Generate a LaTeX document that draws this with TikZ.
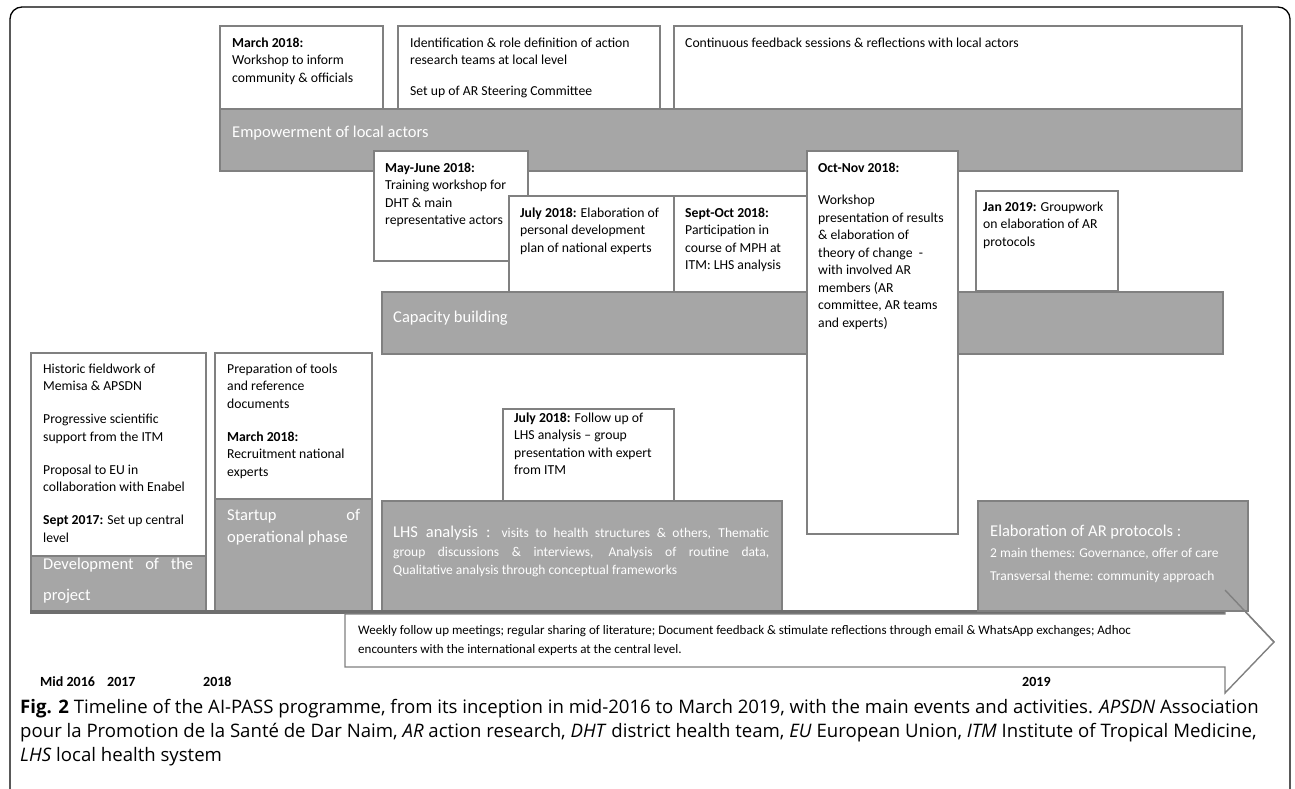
\documentclass[tikz,border=0pt]{standalone}
\usepackage{fontspec}
\setmainfont{Carlito}
\newfontfamily\capfont{Open Sans}
\definecolor{bandgray}{HTML}{A6A6A6}
\definecolor{edgegray}{HTML}{808080}
\definecolor{axisgray}{HTML}{6E6E6E}
\tikzset{
  wbox/.style={draw=edgegray, line width=1.6pt, fill=white, anchor=north west, inner sep=0pt},
  gband/.style={draw=edgegray, line width=1.6pt, fill=bandgray, anchor=north west, inner sep=0pt},
  txt/.style={anchor=north west, inner sep=0pt, align=left, text=black, font=\fontsize{13.7}{17.5}\selectfont},
  btxt/.style={anchor=west, inner sep=0pt, text=white, font=\fontsize{16.5}{20}\selectfont},
  stxt/.style={anchor=west, inner sep=0pt, text=white, font=\fontsize{13.5}{17.5}\selectfont},
  yeartxt/.style={anchor=west, inner sep=0pt, font=\bfseries\fontsize{14}{16}\selectfont},
  captxt/.style={anchor=west, inner sep=0pt, font=\capfont\fontsize{18.6}{23}\selectfont},
}
\newcommand{\bx}[6]{\node[#1, minimum width=#4pt-#2pt, minimum height=#5pt-#3pt] (#6) at (#2,#3) {};}
\begin{document}
\begin{tikzpicture}[x=1pt,y=-1pt]
\useasboundingbox (0,0) rectangle (1295,789);
% frame
\draw[line width=1.3pt, rounded corners=12pt] (10,800) -- (10,7) -- (1290,7) -- (1290,800);

% top row
\bx{wbox}{219}{25}{382}{108}{mar}
\bx{wbox}{397}{25}{659}{108}{ident}
\bx{wbox}{673}{25}{1241}{108}{cont}
\node[txt] (marT) at ([shift={(13,12.5)}]mar.north west) {\textbf{March 2018:}\\Workshop to inform\\community \& officials};
\node[txt] (identT) at ([shift={(13,12.5)}]ident.north west) {Identification \& role definition of action\\research teams at local level\\[13pt]Set up of AR Steering Committee};
\node[txt] (contT) at ([shift={(12,12.5)}]cont.north west) {Continuous feedback sessions \& reflections with local actors};

\bx{gband}{219}{108}{1241}{170}{emp}
\node[btxt] (empT) at ([shift={(13,25)}]emp.north west) {Empowerment of local actors};

% capacity building
\bx{wbox}{373}{150}{527}{260}{may}
\node[txt] (mayT) at ([shift={(12,12.5)}]may.north west) {\textbf{May-June 2018:}\\Training workshop for\\DHT \& main\\representative actors};
\bx{wbox}{508}{195}{673}{291}{jula}
\node[txt] (julaT) at ([shift={(12,12.5)}]jula.north west) {\textbf{July 2018:} Elaboration of\\personal development\\plan of national experts};
\bx{wbox}{673}{195}{806}{291}{sep}
\node[txt] (sepT) at ([shift={(12,12.5)}]sep.north west) {\textbf{Sept-Oct 2018:}\\Participation in\\course of MPH at\\ITM: LHS analysis};
\bx{wbox}{975}{190}{1117}{290}{jan}
\node[txt] (janT) at ([shift={(8,11.5)}]jan.north west) {\textbf{Jan 2019:} Groupwork\\on elaboration of AR\\protocols};
\bx{gband}{381}{291}{1222}{353}{cap}
\node[btxt] (capT) at ([shift={(12,27)}]cap.north west) {Capacity building};
\bx{wbox}{806}{150}{957}{533}{oct}
\node[txt] (octT) at ([shift={(12,12.5)}]oct.north west) {\textbf{Oct-Nov 2018:}\\[15pt]Workshop\\presentation of results\\\& elaboration of\\theory of change\ \ -\\with involved AR\\members (AR\\committee, AR teams\\and experts)};

% lower row
\bx{wbox}{30}{352}{205}{555}{dev}
\node[txt] (devT) at ([shift={(13,11.5)}]dev.north west) {Historic fieldwork of\\Memisa \& APSDN\\[15.5pt]Progressive scientific\\support from the ITM\\[15.5pt]Proposal to EU in\\collaboration with Enabel\\[15.5pt]\textbf{Sept 2017:} Set up central\\level};
\bx{gband}{30}{555}{205}{610}{devb}
\node[anchor=north west, inner sep=0pt, text=white, font=\fontsize{16.5}{31}\selectfont, text width=150pt, align=justify] (devbT) at ([shift={(13,3)}]devb.north west) {Development of the\linebreak project};

\bx{wbox}{214}{352}{371}{498}{start}
\node[txt] (startT) at ([shift={(13,11.5)}]start.north west) {Preparation of tools\\and reference\\documents\\[15.5pt]\textbf{March 2018:}\\Recruitment national\\experts};
\bx{gband}{214}{498}{371}{612}{startb}
\node[anchor=north west, inner sep=0pt, text=white, font=\fontsize{16.5}{22}\selectfont, text width=133pt, align=justify] (startbT) at ([shift={(13,11)}]startb.north west) {Startup of\linebreak operational phase};

\bx{wbox}{502}{408}{673}{500}{julb}
\node[txt] (julbT) at ([shift={(12,4.5)}]julb.north west) {\textbf{July 2018:} Follow up of\\LHS analysis -- group\\presentation with expert\\from ITM};

\bx{gband}{381}{500}{781}{610}{lhs}
\node[anchor=north west, inner sep=0pt, text=white, font=\fontsize{13.5}{18.5}\selectfont, text width=376pt, align=justify] (lhsT) at ([shift={(12,26)}]lhs.north west) {{\fontsize{16.5}{18.5}\selectfont LHS analysis :} visits to health structures \& others, Thematic\linebreak group discussions \& interviews, Analysis of routine data,\linebreak Qualitative analysis through conceptual frameworks};

% axis shadow line
\draw[axisgray, line width=4pt] (30,612) -- (1247,612);

% arrow
\coordinate (arL) at (345,614);
\coordinate (arTop) at (1225,590);
\coordinate (arTip) at (1274,642);
\draw[edgegray, line width=1.4pt, fill=white] (arL) -- (1225,614) -- (arTop) -- (arTip) -- (1225,693) -- (1225,667) -- (345,667) -- cycle;
\node[txt, font=\fontsize{13}{19}\selectfont] (arT) at (358,625) {Weekly follow up meetings; regular sharing of literature; Document feedback \& stimulate reflections through email \& WhatsApp exchanges; Adhoc\\encounters with the international experts at the central level.};

\bx{gband}{977}{500}{1247}{610}{elab}
\draw[edgegray, line width=1.4pt] (arTop) -- (arTip);
\node[btxt, anchor=west] (elabT) at (990,532) {Elaboration of AR protocols :};
\node[stxt] (elabA) at (990,554) {2 main themes: Governance, offer of care};
\node[stxt] (elabB) at (990,577) {Transversal theme: community approach};

% years
\node[yeartxt] (y16) at (40,682) {Mid 2016};
\node[yeartxt] (y17) at (107,682) {2017};
\node[yeartxt] (y18) at (203,682) {2018};
\node[yeartxt] (y19) at (1022,682) {2019};

% caption
\node[captxt] (capA) at (20,709) {\textbf{Fig. 2} Timeline of the AI-PASS programme, from its inception in mid-2016 to March 2019, with the main events and activities. \textit{APSDN} Association};
\node[captxt] (capB) at (20,733) {pour la Promotion de la Santé de Dar Naim, \textit{AR} action research, \textit{DHT} district health team, \textit{EU} European Union, \textit{ITM} Institute of Tropical Medicine,};
\node[captxt] (capC) at (20,757) {\textit{LHS} local health system};
\end{tikzpicture}
\end{document}
